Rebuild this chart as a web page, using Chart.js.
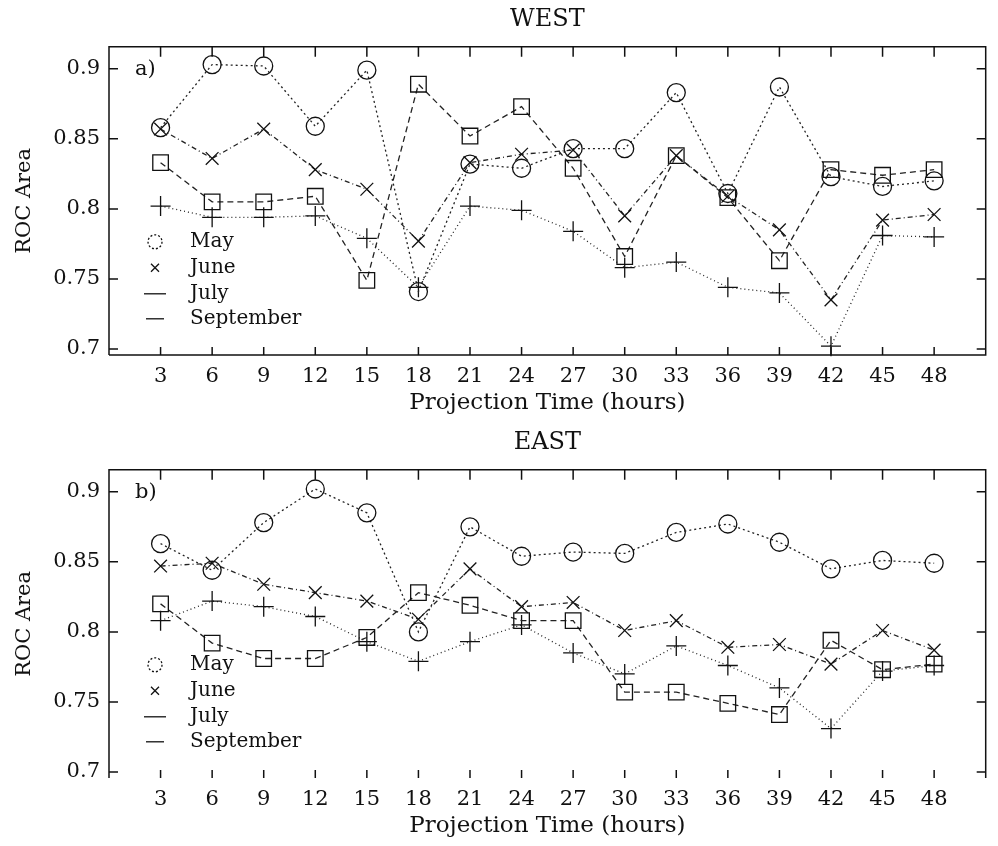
<!DOCTYPE html>
<html>
<head>
<meta charset="utf-8">
<script src="https://cdn.jsdelivr.net/npm/chart.js@4.4.1/dist/chart.umd.min.js"></script>
<style>
  html, body { margin: 0; padding: 0; background: #fff; }
  .panel { position: relative; width: 998px; height: 423px; }
</style>
</head>
<body>
<div class="panel"><canvas id="west"></canvas></div>
<div class="panel"><canvas id="east"></canvas></div>
<script>
const hours = [3, 6, 9, 12, 15, 18, 21, 24, 27, 30, 33, 36, 39, 42, 45, 48];
const yTicks = [0.7, 0.75, 0.8, 0.85, 0.9];
const months = ['May', 'June', 'July', 'September'];

// WEST, panel a)
const westMay  = [0.858, 0.903, 0.902, 0.859, 0.899, 0.741, 0.832, 0.829, 0.843, 0.843, 0.883, 0.811, 0.887, 0.823, 0.816, 0.820];
const westJune = [0.857, 0.836, 0.857, 0.828, 0.814, 0.777, 0.833, 0.839, 0.842, 0.795, 0.838, 0.809, 0.785, 0.735, 0.792, 0.796];
const westJuly = [0.833, 0.805, 0.805, 0.809, 0.749, 0.889, 0.852, 0.873, 0.829, 0.766, 0.838, 0.808, 0.763, 0.828, 0.824, 0.828];
const westSept = [0.802, 0.794, 0.794, 0.795, 0.779, 0.744, 0.802, 0.799, 0.784, 0.758, 0.762, 0.744, 0.740, 0.702, 0.781, 0.780];

// EAST, panel b)
const eastMay  = [0.863, 0.844, 0.878, 0.902, 0.885, 0.800, 0.875, 0.854, 0.857, 0.856, 0.871, 0.877, 0.864, 0.845, 0.851, 0.849];
const eastJune = [0.847, 0.849, 0.834, 0.828, 0.822, 0.809, 0.845, 0.818, 0.821, 0.801, 0.808, 0.789, 0.791, 0.777, 0.801, 0.787];
const eastJuly = [0.820, 0.792, 0.781, 0.781, 0.796, 0.828, 0.819, 0.808, 0.808, 0.757, 0.757, 0.749, 0.741, 0.794, 0.773, 0.777];
const eastSept = [0.808, 0.822, 0.818, 0.811, 0.793, 0.779, 0.793, 0.805, 0.785, 0.770, 0.790, 0.776, 0.760, 0.731, 0.772, 0.776];

Chart.defaults.font.family = "'DejaVu Serif', serif";
Chart.defaults.color = '#111';

const looks = [
  { pointStyle: 'circle',   radius: 9,  dash: [2, 3] },
  { pointStyle: 'crossRot', radius: 9,  dash: [5, 3, 1, 3] },
  { pointStyle: 'rect',     radius: 11, dash: [6, 4] },
  { pointStyle: 'cross',    radius: 10, dash: [1, 3] }
];
const legendRows = [195, 221, 247, 272];

// box, inward ticks, panel tag and legend drawn inside the plot
const frame = {
  id: 'frame',
  afterDraw(chart, args, opts) {
    const { ctx, chartArea: a, scales: { x, y } } = chart;
    ctx.save();
    ctx.strokeStyle = '#111';
    ctx.lineWidth = 1.5;
    ctx.setLineDash([]);
    ctx.beginPath();
    ctx.moveTo(a.left, a.bottom);
    ctx.lineTo(a.left, a.top);
    ctx.lineTo(a.right, a.top);
    ctx.lineTo(a.right, a.bottom);
    if (opts.bottomLine) ctx.lineTo(a.left, a.bottom);
    ctx.stroke();

    ctx.beginPath();
    x.ticks.forEach(t => {
      const px = x.getPixelForValue(t.value);
      ctx.moveTo(px, a.bottom); ctx.lineTo(px, a.bottom - 8);
      ctx.moveTo(px, a.top); ctx.lineTo(px, a.top + 10);
    });
    y.ticks.forEach(t => {
      const py = y.getPixelForValue(t.value);
      ctx.moveTo(a.left, py); ctx.lineTo(a.left + 9, py);
      ctx.moveTo(a.right, py); ctx.lineTo(a.right - 9, py);
    });
    ctx.stroke();

    ctx.fillStyle = '#111';
    ctx.textBaseline = 'middle';
    ctx.font = "21px 'DejaVu Serif'";
    ctx.fillText(opts.tag, a.left + 26, a.top + 23);

    ctx.font = "20px 'DejaVu Serif'";
    ctx.lineWidth = 1.3;
    months.forEach((m, i) => {
      const ry = a.top + legendRows[i];
      const mx = a.left + 46;
      ctx.beginPath();
      if (i === 0) {
        ctx.setLineDash([2, 2]);
        ctx.arc(mx, ry, 7, 0, Math.PI * 2);
      } else if (i === 1) {
        ctx.setLineDash([]);
        ctx.moveTo(mx - 4, ry - 4); ctx.lineTo(mx + 4, ry + 4);
        ctx.moveTo(mx + 4, ry - 4); ctx.lineTo(mx - 4, ry + 4);
      } else {
        ctx.setLineDash([]);
        const half = i === 2 ? 11 : 9;
        ctx.moveTo(mx - half, ry); ctx.lineTo(mx + half, ry);
      }
      ctx.stroke();
      ctx.fillText(m, a.left + 81, ry);
    });
    ctx.restore();
  }
};

function makePanel(id, title, tag, series, bottomLine) {
  new Chart(document.getElementById(id), {
    type: 'line',
    data: {
      datasets: series.map((vals, i) => ({
        label: months[i],
        data: hours.map((h, k) => ({ x: h, y: vals[k] })),
        borderColor: '#222',
        borderWidth: 1.3,
        borderDash: looks[i].dash,
        pointStyle: looks[i].pointStyle,
        pointRadius: looks[i].radius,
        pointBorderColor: '#111',
        pointBorderWidth: 1.3,
        pointBackgroundColor: 'rgba(0,0,0,0)',
        fill: false,
        tension: 0,
        clip: false
      }))
    },
    options: {
      responsive: true,
      maintainAspectRatio: false,
      animation: false,
      layout: { padding: { left: 0, right: 3, top: 0, bottom: 0 } },
      scales: {
        x: {
          type: 'linear',
          min: 0,
          max: 51,
          afterBuildTicks: s => { s.ticks = hours.map(v => ({ value: v })); },
          afterFit: s => { s.height = 68; },
          grid: { display: false, drawTicks: false },
          border: { display: false },
          ticks: { font: { size: 21 }, padding: 9, maxRotation: 0, autoSkip: false, callback: v => String(v) },
          title: { display: true, text: 'Projection Time (hours)', font: { size: 23 }, padding: { top: 0, bottom: 6 } }
        },
        y: {
          min: 0.6957,
          max: 0.9157,
          afterBuildTicks: s => { s.ticks = yTicks.map(v => ({ value: v })); },
          afterFit: s => { s.width = 109; },
          grid: { display: false, drawTicks: false },
          border: { display: false },
          ticks: { font: { size: 21 }, padding: 9, callback: v => String(+v.toFixed(2)) },
          title: { display: true, text: 'ROC Area', font: { size: 21 }, padding: { top: 12, bottom: 0 } }
        }
      },
      plugins: {
        legend: { display: false },
        tooltip: { enabled: false },
        title: {
          display: true,
          text: title,
          fullSize: false,
          color: '#111',
          font: { size: 24, weight: 'normal' },
          padding: { top: 5, bottom: 13 }
        },
        frame: { tag: tag, bottomLine: bottomLine }
      }
    },
    plugins: [frame]
  });
}

makePanel('west', 'WEST', 'a)', [westMay, westJune, westJuly, westSept], true);
makePanel('east', 'EAST', 'b)', [eastMay, eastJune, eastJuly, eastSept], false);
</script>
</body>
</html>
